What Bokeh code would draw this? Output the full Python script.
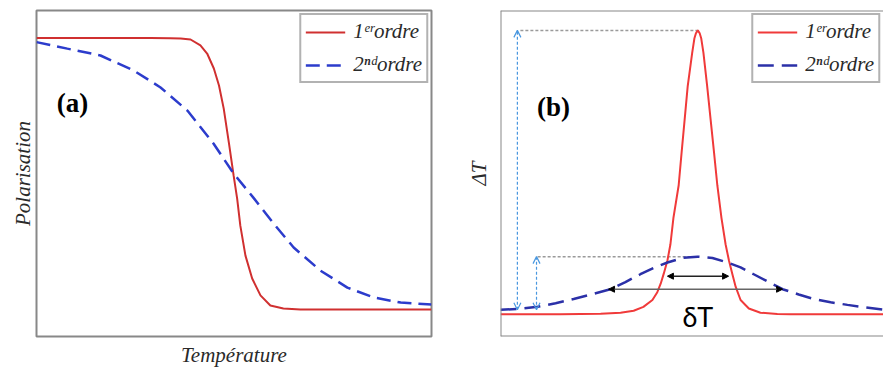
from bokeh.plotting import figure
from bokeh.layouts import row
from bokeh.models import Range1d, FixedTicker, Label, Span, Arrow, OpenHead, NormalHead
from bokeh.embed import file_html
from bokeh.resources import INLINE

# ---------------- data (arbitrary units) ----------------
# Panel (a): polarisation vs temperature
a_x1 = [0, 16.2, 28.9, 33.9, 36.5, 39.0, 41.5, 43.2, 44.9, 46.2, 47.4, 48.7, 49.9, 50.8,
        51.6, 52.9, 54.6, 56.7, 59.2, 62.5, 66.8, 80, 100]
a_y1 = [91.6, 91.6, 91.6, 91.5, 91.4, 91.1, 89.3, 86.8, 82.2, 77.0, 69.9, 59.5, 49.4, 42.3,
        34.0, 24.8, 17.8, 12.6, 9.5, 8.6, 8.3, 8.3, 8.3]
a_x2 = [0, 7.8, 16.2, 24.6, 31.4, 38.2, 44.8, 49.9, 54.9, 60.0, 65.1, 71.9, 78.7, 85.3, 92.2, 100]
a_y2 = [90.3, 88.3, 86.2, 81.6, 76.4, 69.3, 59.2, 50.0, 42.6, 34.7, 27.3, 20.2, 15.0, 12.0, 10.4, 9.8]

# Panel (b): delta T vs temperature
b_x1 = [0, 16, 26.7, 32.0, 35.5, 38.1, 40.5, 41.8, 42.7, 43.5, 44.5, 45.3, 46.1, 47.5, 48.3,
        49.1, 49.9, 51.1, 51.7, 52.1, 52.6, 53.1, 53.5, 54.1, 55.1, 56.0, 56.9, 57.8, 58.9,
        60.0, 60.9, 61.8, 62.7, 64.0, 66.2, 69.3, 73.8, 77.3, 102.1]
b_y1 = [6.8, 6.8, 7.0, 7.3, 7.9, 9.1, 11.2, 13.6, 16.2, 19.2, 23.3, 28.3, 36.4, 46.4, 56.7,
        66.7, 76.7, 87.0, 91.5, 93.0, 93.9, 93.0, 91.5, 87.0, 76.7, 66.7, 56.7, 46.4, 36.4,
        28.3, 23.3, 19.2, 15.2, 11.2, 8.6, 7.3, 6.9, 6.8, 6.8]
b_x2 = [0, 5.3, 9.9, 14.7, 19.5, 24.5, 29.3, 33.3, 37.3, 41.1, 44.5, 48.5, 52.5, 56.5, 60.5,
        64.0, 67.5, 71.5, 75.2, 79.5, 83.5, 88.0, 92.5, 97.3, 102.1]
b_y2 = [8.2, 8.5, 9.1, 10.2, 11.5, 13.0, 14.5, 16.7, 19.1, 21.2, 22.7, 24.1, 24.5, 24.1, 22.7,
        21.2, 19.1, 16.7, 14.5, 12.9, 11.5, 10.5, 9.7, 8.9, 8.2]

# width markers (delta T): level and extent for each curve
dt_levels = [18.5, 14.5]
dt_left = [44.5, 28.8]
dt_right = [60.8, 75.2]
# height markers: x position of vertical arrows, start of dotted guides
h_arrow_x = [4.5, 9.6]
guide_start = [5.3, 9.9]

labels_leg = ["1\u1d49\u02b3ordre", "2\u207f\u1d48ordre"]

RED_A, BLUE_A = "#d03030", "#2c3ccc"
RED_B, BLUE_B = "#f03a3a", "#2b30a8"
FRAME = "#888888"
SERIF = "'Liberation Serif', serif"
H = 369


def base_fig(width, left, right, bottom, xend):
    p = figure(width=width, height=H, output_backend="svg", toolbar_location=None,
               x_range=Range1d(0, xend), y_range=Range1d(0, 100),
               min_border_left=left, min_border_right=right, min_border_top=10,
               min_border_bottom=bottom)
    p.grid.visible = False
    p.background_fill_color = "white"
    p.border_fill_color = "white"
    for ax in (p.xaxis[0], p.yaxis[0]):
        ax.ticker = FixedTicker(ticks=[])
        ax.major_tick_line_color = None
        ax.minor_tick_line_color = None
        ax.axis_line_color = None
        ax.major_label_text_font_size = "0px"
        ax.major_tick_out = 0
        ax.major_label_standoff = 0
        ax.axis_label_text_font = SERIF
        ax.axis_label_text_font_style = "italic"
        ax.axis_label_text_font_size = "21px"
        ax.axis_label_text_color = "#2a2a2a"
    return p


def style_legend(p):
    lg = p.legend[0]
    lg.label_text_font = SERIF
    lg.label_text_font_style = "italic"
    lg.label_text_font_size = "21px"
    lg.label_text_color = "#2a2a2a"
    lg.border_line_color = "#666666"
    lg.border_line_width = 2
    lg.padding = 4
    lg.spacing = 8
    lg.label_height = 22
    lg.glyph_height = 22
    lg.glyph_width = 40
    lg.label_standoff = 8
    lg.margin = 3
    lg.background_fill_alpha = 1.0
    lg.location = "top_right"
    return lg


# ---------------- panel (a) ----------------
pa = base_fig(440, 36, 9, 33, 100)
pa.outline_line_color = FRAME
pa.outline_line_width = 2
pa.xaxis.axis_label = "Température"
pa.xaxis.axis_label_standoff = 6
pa.yaxis.axis_label = "Polarisation"
pa.yaxis.axis_label_standoff = 2

pa.line(a_x1, a_y1, line_color=RED_A, line_width=2, legend_label=labels_leg[0])
pa.line(a_x2, a_y2, line_color=BLUE_A, line_width=2.5, line_dash="14 7",
        legend_label=labels_leg[1])
style_legend(pa)

pa.add_layout(Label(x=9.1, y=71.5, text="(a)", text_font=SERIF,
                    text_font_style="bold", text_font_size="27px", text_align="center",
                    text_baseline="middle", text_color="black"))

# ---------------- panel (b) ----------------
pb = base_fig(443, 60, 0, 29, 102.1)
pb.outline_line_color = None
pb.xaxis.visible = False
pb.yaxis.axis_label = "\u0394T"
pb.yaxis.axis_label_standoff = 10
for loc in (100, 0):
    pb.add_layout(Span(location=loc, dimension="width", line_color=FRAME, line_width=2))
pb.add_layout(Span(location=0, dimension="height", line_color=FRAME, line_width=2))

peak1 = max(b_y1)
peak2 = max(b_y2)
peak1_x = b_x1[b_y1.index(peak1)]
peak2_x = b_x2[b_y2.index(peak2)]
base_lvl = b_y2[0]

# dotted guides
pb.line([guide_start[0], peak1_x], [peak1, peak1], line_color="#9a9a9a", line_width=1.5,
        line_dash="3 2")
pb.line([guide_start[1], peak2_x], [peak2, peak2], line_color="#9a9a9a", line_width=1.5,
        line_dash="3 2")
# vertical height arrows
for xa, top in ((h_arrow_x[0], peak1), (h_arrow_x[1], peak2)):
    pb.add_layout(Arrow(x_start=xa, y_start=base_lvl, x_end=xa, y_end=top,
                        line_color="#4a98e0", line_width=1.2, line_dash="3 2",
                        start=OpenHead(size=7, line_color="#4a98e0", line_width=1.2),
                        end=OpenHead(size=7, line_color="#4a98e0", line_width=1.2)))

pb.line(b_x1, b_y1, line_color=RED_B, line_width=2, legend_label=labels_leg[0])
pb.line(b_x2, b_y2, line_color=BLUE_B, line_width=2.5, line_dash="16 8",
        legend_label=labels_leg[1])

# width arrows (delta T)
for lvl, xl, xr, col in zip(dt_levels, dt_left, dt_right, ["#222222", "#666666"]):
    pb.add_layout(Arrow(x_start=xl, y_start=lvl, x_end=xr, y_end=lvl,
                        line_color=col, line_width=1.6,
                        start=NormalHead(size=6, fill_color="black", line_color="black"),
                        end=NormalHead(size=6, fill_color="black", line_color="black")))

style_legend(pb)

pb.add_layout(Label(x=14.1, y=70.3, text="(b)", text_font=SERIF,
                    text_font_style="bold", text_font_size="27px", text_align="center",
                    text_baseline="middle", text_color="black"))
pb.add_layout(Label(x=peak1_x, y=6.0, text="\u03b4T", text_font="Lato",
                    text_font_size="27px", text_align="center", text_baseline="middle",
                    text_color="black"))
pb.add_layout(Label(x=peak1_x, y=-5.2, text="Température", text_font=SERIF,
                    text_font_style="italic", text_font_size="21px", text_align="center",
                    text_baseline="middle", text_color="#2a2a2a"))

layout = row(pa, pb)
open("out.html", "w").write(file_html(layout, INLINE))
